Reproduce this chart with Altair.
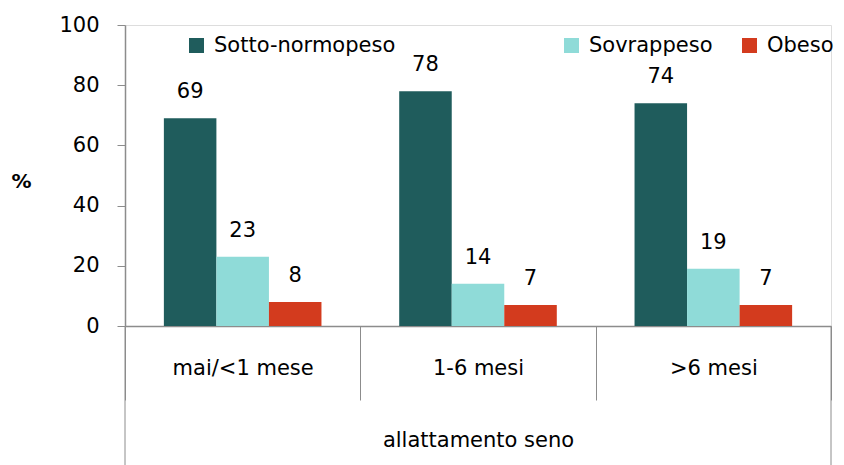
import altair as alt
import pandas as pd

categories = ["mai/<1 mese", "1-6 mesi", ">6 mesi"]
series = ["Sotto-normopeso", "Sovrappeso", "Obeso"]
sotto = [69, 78, 74]
sovr = [23, 14, 19]
obeso = [8, 7, 7]
colors = ["#1f5c5c", "#8fdbd8", "#d33b1e"]
y_ticks = [0, 20, 40, 60, 80, 100]
legend_x = [61, 436, 614]

rows = []
for i, c in enumerate(categories):
    for s, vals in zip(series, [sotto, sovr, obeso]):
        rows.append({"cat": c, "serie": s, "val": vals[i]})
df = pd.DataFrame(rows)

FONT = "DejaVu Sans"
FS = 21
GREY = "#8c8c8c"
W, H = 706, 301

x_enc = alt.X("cat:N", sort=categories,
              scale=alt.Scale(domain=categories, paddingInner=0, paddingOuter=0),
              axis=alt.Axis(title="allattamento seno", labelAngle=0,
                            tickBand="extent", tickSize=74, tickColor=GREY,
                            domainColor=GREY, domainWidth=1.5, tickWidth=1,
                            labelPadding=-43, labelFontSize=FS, labelFont=FONT,
                            labelColor="#000", titleFont=FONT, titleFontSize=FS,
                            titleFontWeight="normal", titleColor="#000",
                            titlePadding=29))
xo_enc = alt.XOffset("serie:N", sort=series,
                     scale=alt.Scale(domain=series, paddingInner=0, paddingOuter=0.74))
y_enc = alt.Y("val:Q", scale=alt.Scale(domain=[0, 100], nice=False),
              axis=alt.Axis(values=y_ticks, title="%", titleAngle=0,
                            titleX=-104, titleY=156, titleAlign="center",
                            titleBaseline="middle", titleFont=FONT,
                            titleFontSize=20, titleFontWeight="bold",
                            titleColor="#000", grid=False, tickSize=8,
                            tickColor=GREY, domainColor=GREY, domainWidth=1.5,
                            labelPadding=18, labelFontSize=FS, labelFont=FONT,
                            labelColor="#000"))

layers = []
for s, col, lx in zip(series, colors, legend_x):
    layers.append(
        alt.Chart(df).transform_filter(alt.datum.serie == s).mark_bar().encode(
            x=x_enc, xOffset=xo_enc, y=y_enc,
            color=alt.Color("serie:N",
                            scale=alt.Scale(domain=[s], range=[col]),
                            legend=alt.Legend(title=None, orient="none",
                                              legendX=lx, legendY=10,
                                              direction="horizontal",
                                              symbolType="square", symbolSize=225,
                                              symbolStrokeWidth=0,
                                              labelFontSize=FS, labelFont=FONT,
                                              labelColor="#000", labelOffset=7,
                                              labelLimit=500, padding=0)))
    )

labels = alt.Chart(df).mark_text(dy=-26, baseline="middle", fontSize=FS,
                                 font=FONT, color="#000").encode(
    x=alt.X("cat:N", sort=categories), xOffset=alt.XOffset("serie:N", sort=series),
    y="val:Q", text="val:Q")
edge_l = alt.Chart(pd.DataFrame({"e": [0]})).mark_rule(color=GREY, strokeWidth=1).encode(
    x=alt.value(0), y=alt.value(H), y2=alt.value(H + 160))
edge_r = alt.Chart(pd.DataFrame({"e": [0]})).mark_rule(color=GREY, strokeWidth=1).encode(
    x=alt.value(W), y=alt.value(H), y2=alt.value(H + 160))

chart = alt.layer(*layers, labels, edge_l, edge_r).resolve_scale(
    color="independent"
).properties(
    width=W, height=H,
    autosize=alt.AutoSizeParams(type="none"),
    padding={"left": 117, "top": 17, "right": 5, "bottom": 139},
).configure_view(stroke=None).configure(background="white")

chart.save("out.html", embed_options={"renderer": "svg", "actions": False})
